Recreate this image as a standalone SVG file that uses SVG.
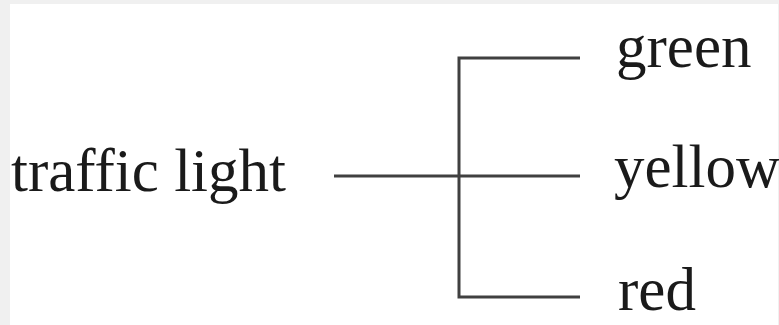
<svg xmlns="http://www.w3.org/2000/svg" width="779" height="325" viewBox="0 0 779 325">
<style>
.t{font-family:"Liberation Serif","Times New Roman",serif;font-size:61px;fill:#1a1a1a}
.c{stroke:#404040;stroke-width:3;fill:none}
</style>
<rect x="0" y="0" width="779" height="325" fill="#f0f0f0"/>
<rect x="10" y="4" width="768" height="321" fill="#ffffff"/>
<g id="node-traffic-light"><text class="t" x="11" y="191">traffic light</text></g>
<g id="node-green"><text class="t" x="616" y="67">green</text></g>
<g id="node-yellow"><text class="t" x="614" y="187">yellow</text></g>
<g id="node-red"><text class="t" x="618" y="310">red</text></g>
<g id="connectors">
<line class="c" x1="334" y1="176" x2="580" y2="176"/>
<polyline class="c" points="580,58 459,58 459,297 580,297"/>
</g>
</svg>
